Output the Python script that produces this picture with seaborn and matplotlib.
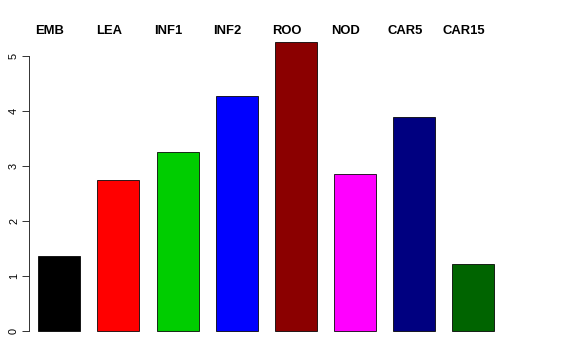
import matplotlib
matplotlib.use("Agg")
import matplotlib.pyplot as plt
import seaborn as sns
import pandas as pd

categories = ["EMB", "LEA", "INF1", "INF2", "ROO", "NOD", "CAR5", "CAR15"]
values = [1.37, 2.75, 3.26, 4.27, 5.25, 2.86, 3.90, 1.21]
colors = ["#000000", "#FF0000", "#00CD00", "#0000FF", "#8B0000", "#FF00FF", "#000080", "#006400"]
yticks = [0, 1, 2, 3, 4, 5]

sns.set_style("white")
plt.rcParams["font.family"] = ["Liberation Sans", "DejaVu Sans"]
plt.rcParams["text.color"] = "black"
plt.rcParams["ytick.color"] = "black"
plt.rcParams["ytick.labelcolor"] = "black"

W, H = 576, 360
fig = plt.figure(figsize=(W / 72, H / 72), dpi=72)
ax = fig.add_axes([0, 0, 1, 1])

df = pd.DataFrame({"cat": categories, "val": values})
sns.barplot(data=df, x="cat", y="val", hue="cat", palette=colors, legend=False,
            width=0.71, edgecolor="black", linewidth=0.8, ax=ax, saturation=1)

# pixel -> data mapping
x0_px, xstep_px = 59.3, 59.17
y0_px, ystep_px = 331.0, 55.0
ax.set_xlim((0 - x0_px) / xstep_px, (W - x0_px) / xstep_px)
ax.set_ylim((y0_px - H) / ystep_px, y0_px / ystep_px)

for s in ["top", "right", "bottom"]:
    ax.spines[s].set_visible(False)
ax.spines["left"].set_position(("data", (29 - x0_px) / xstep_px))
ax.spines["left"].set_bounds(0, 5)
ax.spines["left"].set_color("#222222")
ax.spines["left"].set_linewidth(0.9)
ax.set_yticks(yticks)
ax.set_yticklabels([str(t) for t in yticks], rotation=90, va="center", fontsize=11, color="black")
ax.tick_params(axis="y", length=7, width=0.9, pad=3, left=True, color="#222222")
ax.set_xticks([])
ax.set_xlabel("")
ax.set_ylabel("")
ax.patch.set_alpha(0)

label_y = (y0_px - 31) / ystep_px
for i, c in enumerate(categories):
    ax.text(i - 0.16, label_y, c, ha="center", va="center",
            fontsize=13, fontweight="bold", color="black")

fig.savefig("out.png", dpi=72)
